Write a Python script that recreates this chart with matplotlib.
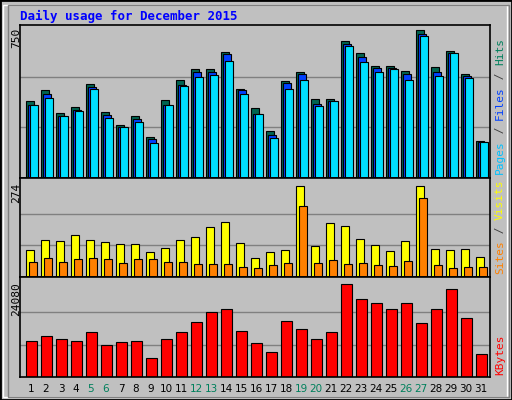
import matplotlib
matplotlib.use("Agg")
import matplotlib.pyplot as plt
from matplotlib.patches import Rectangle

days = list(range(1, 32))
hits = [379,432,318,348,461,323,259,303,204,382,481,536,536,620,437,343,234,476,521,387,387,674,615,550,550,526,728,545,625,511,180]
files = [362,412,305,333,448,308,249,293,194,358,456,522,522,610,432,313,214,466,511,367,377,659,595,541,541,511,709,521,615,501,175]
pages = [358,392,303,328,438,298,249,278,170,358,451,496,506,575,412,313,199,437,481,353,377,649,570,521,536,481,699,501,615,491,175]
sites = [77,106,103,120,106,100,94,94,72,83,106,114,143,157,97,54,72,77,263,89,155,146,109,92,74,103,263,80,77,80,57]
visits = [43,54,43,51,54,51,40,51,51,43,43,37,37,37,29,26,34,40,203,40,49,37,40,34,31,46,226,34,26,29,29]
kbytes = [8904,10176,9413,8904,11194,7886,8650,8904,4834,9413,11194,13738,16027,16790,11448,8395,6106,13992,11957,9413,11194,23150,19334,18317,16790,18317,13483,16790,21878,14755,5597]
weekend = [5,6,12,13,19,20,26,27]
max_hits, max_sites, max_kb = 750, 274, 24080

W, H = 512, 400
fig = plt.figure(figsize=(W/100, H/100), dpi=100)
fig.patch.set_facecolor("#C0C0C0")
fig.add_artist(Rectangle((0, 0), 1, 1, transform=fig.transFigure, fill=False, ec="black", lw=2))
fig.add_artist(Rectangle((3/W, 3/H), 1-8/W, 1-8/H, transform=fig.transFigure, fill=False, ec="white", lw=1))
fig.add_artist(Rectangle((8/W, 3/H), 1-8/W-3/W, 1-8/H, transform=fig.transFigure, fill=False, ec="#808080", lw=1))

mono = "DejaVu Sans Mono"
fig.text(20/W, 1-16/H, "Daily usage for December 2015", color="#0000FF", fontsize=9,
         fontweight="bold", family=mono, va="center")

left, right = 20, 490
def mkax(top, bot):
    ax = fig.add_axes([left/W, 1-bot/H, (right-left)/W, (bot-top)/H])
    ax.set_facecolor("#C0C0C0")
    for s in ax.spines.values():
        s.set_color("black"); s.set_linewidth(1.2)
    ax.set_xlim(0.267, 0.267 + (right-left)/15)
    ax.set_xticks([]); ax.set_yticks([])
    return ax

u = 1/15
x0 = [d - 5*u for d in days]

ax1 = mkax(25, 178)
ax1.set_ylim(0, max_hits*1.005)
for g in (250, 500):
    ax1.axhline(g, color="#808080", lw=1, zorder=0)
ax1.bar(x0, hits, width=8*u, align="edge", color="#006450", ec="black", lw=0.8)
ax1.bar([x+2*u for x in x0], files, width=8*u, align="edge", color="#0040FF", ec="black", lw=0.8)
ax1.bar([x+4*u for x in x0], pages, width=8*u, align="edge", color="#00E0FF", ec="black", lw=0.8)

ax2 = mkax(178, 277)
ax2.set_ylim(0, max_sites*1.04)
for g in (max_sites/3, 2*max_sites/3):
    ax2.axhline(g, color="#808080", lw=1, zorder=0)
ax2.bar(x0, sites, width=8*u, align="edge", color="#FFFF00", ec="black", lw=0.8)
ax2.bar([x+3*u for x in x0], visits, width=8*u, align="edge", color="#FF8000", ec="black", lw=0.8)

ax3 = mkax(277, 377)
ax3.set_ylim(0, max_kb*1.03)
for g in (max_kb/3, 2*max_kb/3):
    ax3.axhline(g, color="#808080", lw=1, zorder=0)
ax3.bar(x0, kbytes, width=11*u, align="edge", color="#FF0000", ec="black", lw=0.8)

for txt, y in (("750", 28), ("274", 183), ("24080", 282)):
    fig.text(16/W, 1-y/H, txt, rotation=90, fontsize=8, family=mono, ha="center", va="top")

def rlabel(parts, ybot):
    y = ybot
    for t, c in parts:
        fig.text(500/W, 1-y/H, t, rotation=90, fontsize=8, family=mono, color=c, ha="center", va="bottom")
        y -= len(t)*6.8
rlabel([("Pages", "#00C0FF"), (" / ", "#404040"), ("Files", "#0040FF"), (" / ", "#404040"), ("Hits", "#00805C")], 174)
rlabel([("Sites", "#FF8000"), (" / ", "#404040"), ("Visits", "#FFFF00")], 274)
rlabel([("KBytes", "#FF0000")], 375)

for d in days:
    fig.text((left + (d - 0.267)*15)/W, 1-389/H, str(d), fontsize=7.5, family="DejaVu Sans",
             color="#00805C" if d in weekend else "black", ha="center", va="center")

fig.savefig("out.png", dpi=100, facecolor=fig.get_facecolor())
